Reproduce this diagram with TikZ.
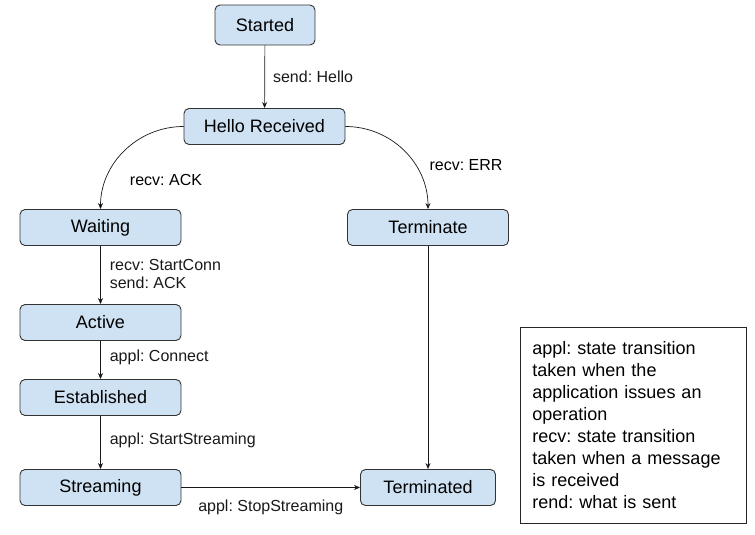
\documentclass[tikz,border=0pt]{standalone}
\usepackage{fontspec}
\setmainfont{Liberation Sans}
\usetikzlibrary{arrows.meta,positioning}
\definecolor{stateblue}{HTML}{CFE2F3}
\tikzset{state box/.style={draw=black!80, fill=stateblue, line width=0.9pt,
           rounded corners=5pt, minimum width=161pt, minimum height=36pt,
           font=\fontsize{18}{22}\selectfont},
         trans/.style={-{Stealth[length=6pt,width=5pt]}, line width=0.7pt, black!90},
         trans label/.style={font=\fontsize{16}{18}\selectfont, align=left, inner sep=2pt}}

\begin{document}
\frenchspacing
\begin{tikzpicture}[x=1pt,y=-1pt]
    \useasboundingbox (0,0) rectangle (755,535);
    % states
    \node[state box, minimum width=100pt, minimum height=40pt] (started) at (265,25) {Started};
    \node[state box] (hello) at (264.5,126.5) {Hello Received};
    \node[state box] (waiting) at (100.5,227.5) {Waiting};
    \node[state box] (terminate) at (428,227.5) {Terminate};
    \node[state box] (active) at (100.5,322.5) {Active};
    \node[state box] (established) at (100.5,397.5) {Established};
    \node[state box] (streaming) at (100.5,487.5) {Streaming};
    \node[state box, minimum width=135pt] (terminated) at (428,487.5) {Terminated};
    % transitions
    \draw[trans] (started) -- node[trans label, right, xshift=6pt] {send: Hello} (hello);
    \draw[trans] (hello.west) to[out=180,in=90] (waiting.north);
    \node[trans label] (ack lbl) at (166,180) {recv: ACK};
    \draw[trans] (hello.east) to[out=0,in=90] (terminate.north);
    \node[trans label] (err lbl) at (466,165) {recv: ERR};
    \draw[trans] (waiting) -- node[trans label, right, xshift=7pt, yshift=1pt] {recv: StartConn\\send: ACK} (active);
    \draw[trans] (active) -- node[trans label, right, xshift=7pt, yshift=3pt] {appl: Connect} (established);
    \draw[trans] (established) -- node[trans label, right, xshift=7pt, yshift=2pt] {appl: StartStreaming} (streaming);
    \draw[trans] (terminate) -- (terminated);
    \draw[trans] (streaming) -- node[trans label, below, yshift=-10pt] {appl: StopStreaming} (terminated);
    % legend
    \node[draw=black!85, line width=0.9pt, anchor=north west, minimum width=226pt,
          minimum height=196pt, text width=202pt, inner xsep=12pt, align=left,
          font=\fontsize{18}{22}\selectfont] (legend) at (520,327)
      {appl: state transition\\taken when the\\application issues an\\operation\\recv: state transition\\taken when a message\\is received\\rend: what is sent};
\end{tikzpicture}
\end{document}
